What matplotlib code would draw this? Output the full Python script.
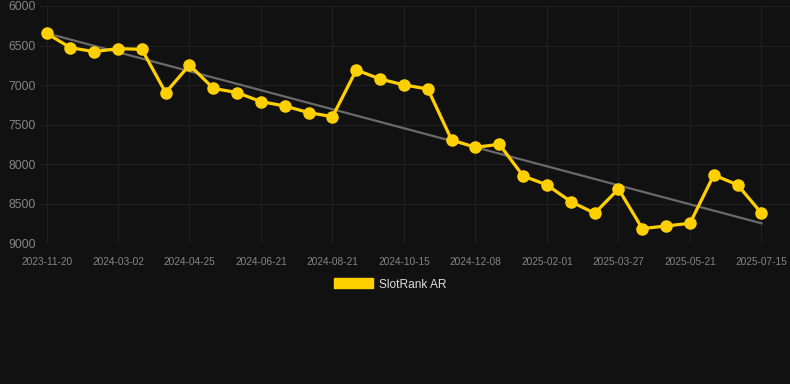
import matplotlib
matplotlib.use("Agg")
import matplotlib.pyplot as plt
import matplotlib.patches as mpatches
import numpy as np

plt.rcParams['font.family'] = ['Liberation Sans', 'DejaVu Sans']

dates = [
    "2023-11-20", "2023-12-25", "2024-01-29", "2024-03-02", "2024-03-20", "2024-04-07",
    "2024-04-25", "2024-05-14", "2024-06-02", "2024-06-21", "2024-07-11", "2024-07-31",
    "2024-08-21", "2024-09-08", "2024-09-26", "2024-10-15", "2024-11-02", "2024-11-20",
    "2024-12-08", "2024-12-26", "2025-01-14", "2025-02-01", "2025-02-19", "2025-03-09",
    "2025-03-27", "2025-04-14", "2025-05-03", "2025-05-21", "2025-06-08", "2025-06-26",
    "2025-07-15",
]
ranks = [
    6345, 6527, 6577, 6539, 6548, 7095, 6746, 7041, 7095, 7209, 7264, 7348,
    7399, 6809, 6923, 6998, 7049, 7694, 7786, 7749, 8149, 8262, 8473, 8620,
    8313, 8814, 8781, 8747, 8136, 8262, 8620,
]
series_name = "SlotRank AR"
y_ticks = [6000, 6500, 7000, 7500, 8000, 8500, 9000]

BG = "#111111"
GRID = "#1f1f1f"
TXT = "#858585"
GOLD = "#FFD000"

fig = plt.figure(figsize=(7.9, 3.84), dpi=100, facecolor=BG)
ax = fig.add_axes([40 / 790, (384 - 243.3) / 384, 750 / 790, 237.3 / 384])
ax.set_facecolor(BG)

x = np.arange(len(dates))
# trend line (linear fit)
coef = np.polyfit(x, ranks, 1)
ax.plot(x, np.polyval(coef, x), color="#6a6a6a", lw=1.6, zorder=2)

ax.plot(x, ranks, color=GOLD, lw=2.3, marker="o", markersize=8,
        markerfacecolor=GOLD, markeredgecolor=GOLD, zorder=3)

ax.set_ylim(9000, 6000)
ax.set_xlim(-(46.5 - 40) / 23.833, 30 + (790 - 761.5) / 23.833)
ax.set_yticks(y_ticks)
ax.set_yticklabels([str(v) for v in y_ticks])
tick_idx = list(range(0, len(dates), 3))
ax.set_xticks(tick_idx)
ax.set_xticklabels([dates[i] for i in tick_idx])

ax.grid(True, color=GRID, lw=0.8)
ax.set_axisbelow(True)
for s in ax.spines.values():
    s.set_visible(False)
ax.tick_params(axis="y", length=0, pad=3, labelsize=8.7, labelcolor=TXT)
ax.tick_params(axis="x", length=0, pad=10, labelsize=7.3, labelcolor=TXT)

handle = mpatches.Patch(facecolor=GOLD, edgecolor=GOLD, label=series_name)
leg = fig.legend(handles=[handle], loc="center", bbox_to_anchor=(390 / 790, 1 - 284.5 / 384),
                 frameon=False, fontsize=8.6, handlelength=3.3, handleheight=0.9,
                 handletextpad=0.5, labelcolor="#dddddd")

fig.savefig("out.png", dpi=100, facecolor=BG)
